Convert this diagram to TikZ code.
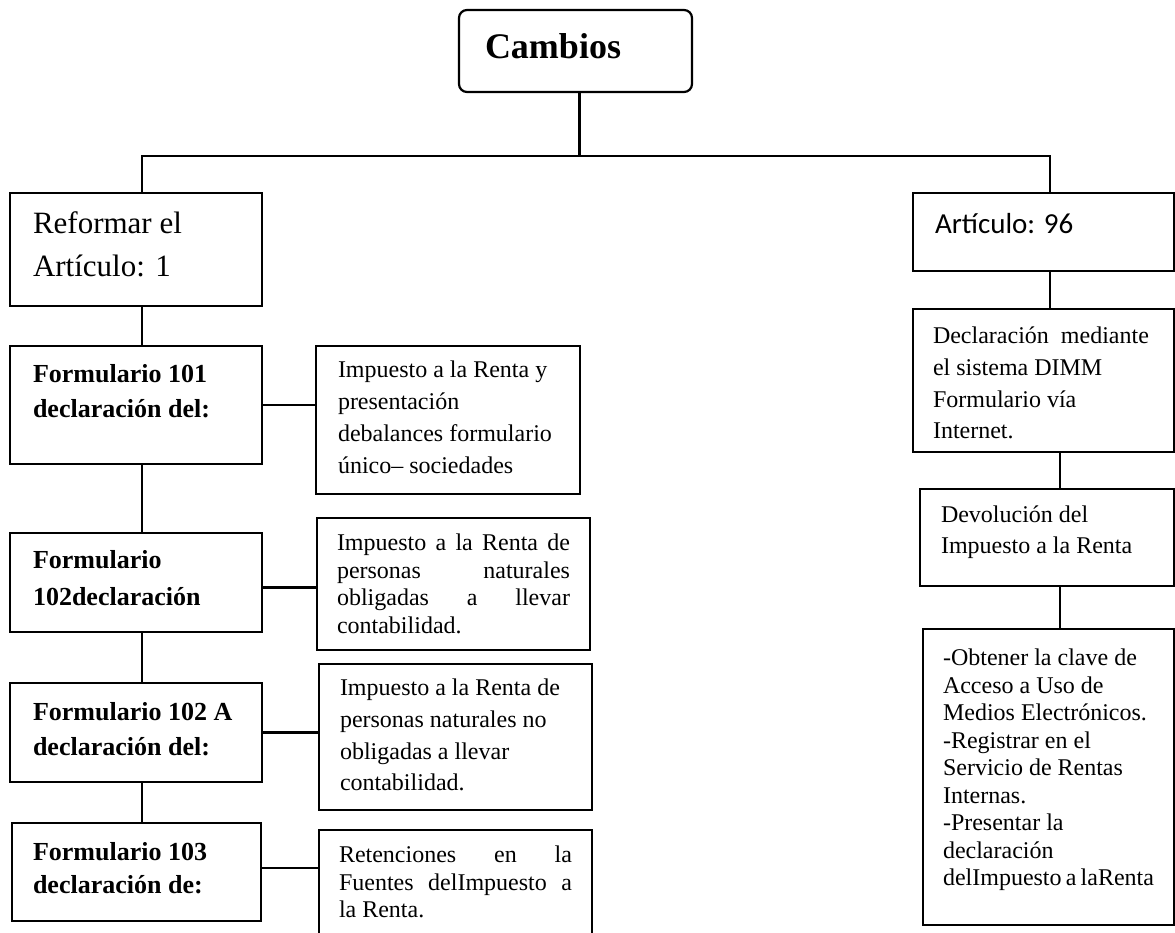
\documentclass[tikz,border=0pt]{standalone}
\usepackage{fontspec}
\setmainfont{Liberation Serif}
\newfontfamily\calibri{Carlito}
\usepackage{tikz}
\usetikzlibrary{positioning}
\tikzset{
  recuadro/.style 2 args={draw, rectangle, anchor=north west, inner xsep=#1,
                          inner ysep=#2, outer sep=0pt},
  raya/.style={draw, line width=1.8pt}
}
\newcommand{\caja}[3]{\begin{minipage}[t][#2pt][t]{#1pt}#3\end{minipage}}
\newcommand{\letra}[2]{\fontsize{#1}{#2}\selectfont}
\hyphenpenalty=10000

\begin{document}
\begin{tikzpicture}[x=1pt,y=-1pt,line width=2.2pt]
\useasboundingbox (0,0) rectangle (1175,932);
\clip (0,0) rectangle (1175,932);
\node[recuadro={26pt}{24pt},rounded corners=8pt] (cambios) at (459,10)
  {\caja{181}{34}{\letra{36}{40}\bfseries Cambios}};
% lado izquierdo
\node[recuadro={23pt}{19pt}] (reformar) at (10,193)
  {\caja{206}{75}{\letra{31}{43}Reformar el\\Artículo: 1}};
\node[recuadro={23pt}{18pt}] (f101) at (10,346)
  {\caja{206}{82}{\letra{26}{35}\bfseries Formulario 101\\declaración del:}};
\node[recuadro={23pt}{17pt}] (f102) at (10,533)
  {\caja{206}{65}{\letra{26}{37}\bfseries Formulario\\102declaración}};
\node[recuadro={23pt}{19pt}] (f102a) at (10,683)
  {\caja{206}{61}{\letra{26}{35}\bfseries Formulario 102 A\\declaración del:}};
\node[recuadro={21pt}{19pt}] (f103) at (12,823)
  {\caja{207}{60}{\letra{26}{33}\bfseries Formulario 103\\declaración de:}};
\node[recuadro={22pt}{15pt}] (imp1) at (316,346)
  {\caja{220}{118}{\letra{24}{32}Impuesto a la Renta y\\presentación\\debalances formulario\\único– sociedades}};
\node[recuadro={20pt}{16pt}] (imp2) at (317,518)
  {\caja{233}{100}{\letra{24}{27.5}Impuesto a la Renta de\linebreak personas naturales\linebreak obligadas a llevar\linebreak contabilidad.}};
\node[recuadro={21pt}{15pt}] (imp3) at (319,664)
  {\caja{231}{116}{\letra{24}{31.7}Impuesto a la Renta de\\personas naturales no\\obligadas a llevar\\contabilidad.}};
\node[recuadro={20pt}{16pt}] (ret) at (319,830)
  {\caja{233}{108}{\letra{24}{27.5}Retenciones en la\linebreak Fuentes delImpuesto a\linebreak la Renta.}};
% lado derecho
\node[recuadro={22pt}{20pt}] (articulo) at (913,193)
  {\caja{217}{38}{\calibri\letra{29}{35}Artículo: 96}};
\node[recuadro={20pt}{18pt}] (declaracion) at (913,309)
  {\caja{221}{107}{\letra{24}{31.7}Declaración\ \ mediante\\el sistema DIMM\\Formulario vía\\Internet.}};
\node[recuadro={21pt}{17pt}] (devolucion) at (920,489)
  {\caja{212}{63}{\letra{24}{31}Devolución del\\Impuesto a la Renta}};
\node[recuadro={20pt}{20pt}] (pasos) at (923,629)
  {\caja{211}{256}{\letra{24}{27.5}-Obtener la clave de\\Acceso a Uso de\\Medios Electrónicos.\\-Registrar en el\\Servicio de Rentas\\Internas.\\-Presentar la\\declaración\\delImpuesto a laRenta}};

\coordinate (izq) at (142,156);
\coordinate (der) at (1050,156);
\coordinate (eje) at (1060,470);
\draw ([xshift=4pt]cambios.south) -- ([xshift=4pt]cambios.south |- izq);
\draw (izq |- reformar.north) -- (izq) -- (der) -- (der |- articulo.north);
\draw (izq |- reformar.south) -- (izq |- f101.north);
\draw (izq |- f101.south) -- (izq |- f102.north);
\draw (izq |- f102.south) -- (izq |- f102a.north);
\draw (izq |- f102a.south) -- (izq |- f103.north);
\draw (f101.east) -- (f101.east -| imp1.west);
\draw ([yshift=-5pt]f102.east) -- ([yshift=-5pt]f102.east -| imp2.west);
\draw (f102a.east) -- (f102a.east -| imp3.west);
\draw ([yshift=4pt]f103.east) -- ([yshift=4pt]f103.east -| ret.west);
\draw (der |- articulo.south) -- (der |- declaracion.north);
\draw (eje |- declaracion.south) -- (eje |- devolucion.north);
\draw (eje |- devolucion.south) -- (eje |- pasos.north);
\end{tikzpicture}
\end{document}
